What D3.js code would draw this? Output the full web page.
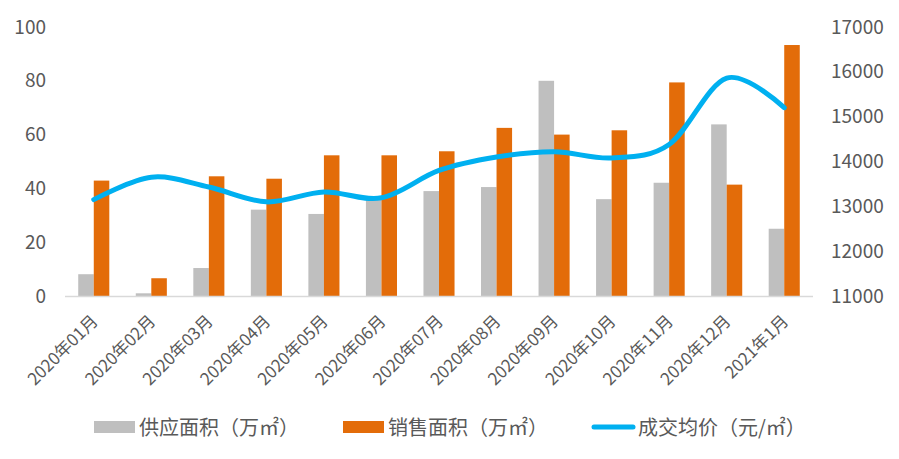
<!DOCTYPE html>
<html><head><meta charset="utf-8">
<script src="https://cdn.jsdelivr.net/npm/d3@7/dist/d3.min.js"></script>
<style>
html,body{margin:0;padding:0;background:#fff;}
text{font-family:"Noto Sans CJK SC","Noto Sans",sans-serif;fill:#595959;}
</style></head>
<body>
<svg id="chart" width="899" height="459"></svg>
<script>
const categories = ["2020年01月","2020年02月","2020年03月","2020年04月","2020年05月","2020年06月","2020年07月","2020年08月","2020年09月","2020年10月","2020年11月","2020年12月","2021年1月"];
const supplyArea = [8.1, 1.0, 10.4, 32.1, 30.5, 36.0, 39.0, 40.5, 80.0, 36.0, 42.1, 63.8, 25.0];
const salesArea = [42.9, 6.6, 44.5, 43.6, 52.3, 52.3, 53.8, 62.5, 60.0, 61.6, 79.4, 41.4, 93.3];
const avgPrice = [13150, 13650, 13430, 13100, 13320, 13190, 13800, 14100, 14220, 14080, 14380, 15860, 15200];
const leftTicks = [0, 20, 40, 60, 80, 100];
const rightTicks = [11000, 12000, 13000, 14000, 15000, 16000, 17000];
const seriesNames = ["供应面积（万㎡）", "销售面积（万㎡）", "成交均价（元/㎡）"];
const colors = ["#bfbfbf", "#e36c09", "#00b0f0"];

const svg = d3.select("#chart");
const x0 = d3.scaleBand().domain(categories).range([65, 813]).paddingInner(0.46).paddingOuter(0.23);
const x1 = d3.scaleBand().domain([0, 1]).range([0, x0.bandwidth()]);
const yL = d3.scaleLinear().domain([0, 100]).range([296, 27]);
const yR = d3.scaleLinear().domain([11000, 17000]).range([296, 27]);

// left axis labels
svg.append("g").selectAll("text").data(leftTicks).join("text")
  .attr("x", 46).attr("y", d => yL(d)).attr("dy", "0.35em")
  .attr("text-anchor", "end").attr("font-size", 19).text(d => d);
// right axis labels
svg.append("g").selectAll("text").data(rightTicks).join("text")
  .attr("x", 831).attr("y", d => yR(d)).attr("dy", "0.35em")
  .attr("text-anchor", "start").attr("font-size", 19).text(d => d);

// bars
const g = svg.append("g");
g.selectAll("rect.s").data(supplyArea).join("rect").attr("class", "s")
  .attr("x", (d, i) => x0(categories[i]) + x1(0)).attr("width", x1.bandwidth())
  .attr("y", d => yL(d)).attr("height", d => yL(0) - yL(d)).attr("fill", colors[0]);
g.selectAll("rect.o").data(salesArea).join("rect").attr("class", "o")
  .attr("x", (d, i) => x0(categories[i]) + x1(1)).attr("width", x1.bandwidth())
  .attr("y", d => yL(d)).attr("height", d => yL(0) - yL(d)).attr("fill", colors[1]);

// baseline
svg.append("line").attr("x1", 65).attr("x2", 813).attr("y1", yL(0) + 0.5).attr("y2", yL(0) + 0.5)
  .attr("stroke", "#d9d9d9").attr("stroke-width", 1.5);

// line
const line = d3.line()
  .x((d, i) => x0(categories[i]) + x0.bandwidth() / 2)
  .y(d => yR(d))
  .curve(d3.curveCardinal.tension(0));
svg.append("path").datum(avgPrice).attr("d", line)
  .attr("fill", "none").attr("stroke", colors[2]).attr("stroke-width", 5)
  .attr("stroke-linecap", "round").attr("stroke-linejoin", "round");

// x labels
svg.append("g").selectAll("text").data(categories).join("text")
  .attr("transform", d => `translate(${x0(d) + x0.bandwidth() / 2 + 1},318) rotate(-45)`)
  .attr("text-anchor", "end").attr("dy", "0.35em").attr("font-size", 17).text(d => d);

// legend
const lg = svg.append("g");
lg.append("rect").attr("x", 94).attr("y", 421).attr("width", 41).attr("height", 12).attr("fill", colors[0]);
lg.append("text").attr("x", 139).attr("y", 428).attr("dy", "0.35em").attr("font-size", 20).text(seriesNames[0]);
lg.append("rect").attr("x", 343).attr("y", 421).attr("width", 41).attr("height", 12).attr("fill", colors[1]);
lg.append("text").attr("x", 388).attr("y", 428).attr("dy", "0.35em").attr("font-size", 20).text(seriesNames[1]);
lg.append("line").attr("x1", 594).attr("x2", 633).attr("y1", 427).attr("y2", 427)
  .attr("stroke", colors[2]).attr("stroke-width", 5).attr("stroke-linecap", "round");
lg.append("text").attr("x", 638).attr("y", 428).attr("dy", "0.35em").attr("font-size", 20).text(seriesNames[2]);
</script>
</body></html>
